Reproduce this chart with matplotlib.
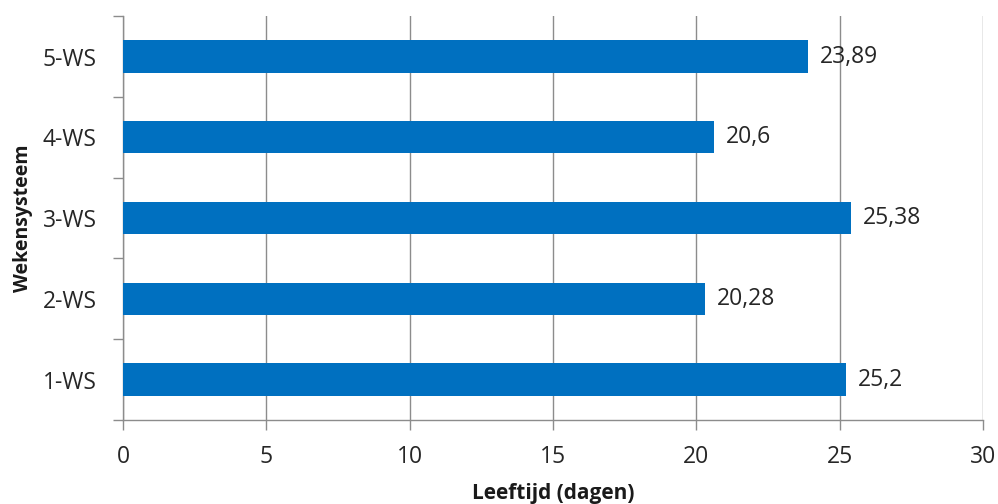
import matplotlib
matplotlib.use("Agg")
import matplotlib.pyplot as plt
import numpy as np

# data
categories = ["1-WS", "2-WS", "3-WS", "4-WS", "5-WS"]
values = [25.2, 20.28, 25.38, 20.6, 23.89]
value_labels = ["25,2", "20,28", "25,38", "20,6", "23,89"]

plt.rcParams['font.family'] = ['Open Sans', 'DejaVu Sans']

fig = plt.figure(figsize=(9.98, 5.04), dpi=100)
ax = fig.add_axes([0.1232, 0.1667, 0.862, 0.8013])

pos = np.arange(len(categories))
ax.barh(pos, values, height=0.4, color="#0070C0", zorder=3)

for p, v, lab in zip(pos, values, value_labels):
    ax.text(v + 0.42, p, lab, va="center", ha="left", fontsize=16.5, color="#262626")

ax.set_xlim(0, 30)
ax.set_ylim(-0.5, len(categories) - 0.5)
ax.set_xticks(range(0, 31, 5))
ax.grid(axis="x", color="#8c8c8c", linewidth=1, zorder=0)

# tick marks at category boundaries, labels at centres
ax.set_yticks(pos)
ax.set_yticklabels(categories)
ax.set_yticks(np.arange(-0.5, len(categories), 1), minor=True)
ax.tick_params(axis="y", which="major", length=0, pad=19, labelsize=16.5, labelcolor="#262626")
ax.tick_params(axis="y", which="minor", length=7, color="#8c8c8c", width=1)
ax.tick_params(axis="x", length=7, color="#8c8c8c", width=1, pad=11, labelsize=16.5, labelcolor="#262626")

for s in ["top", "right"]:
    ax.spines[s].set_visible(False)
for s in ["left", "bottom"]:
    ax.spines[s].set_color("#8c8c8c")
    ax.spines[s].set_linewidth(1)

ax.set_xlabel("Leeftijd (dagen)", fontsize=15, fontweight="bold", labelpad=10, color="#1a1a1a")
ax.set_ylabel("Wekensysteem", fontsize=14, fontweight="bold", labelpad=7, color="#1a1a1a")

fig.savefig("out.png", dpi=100)
